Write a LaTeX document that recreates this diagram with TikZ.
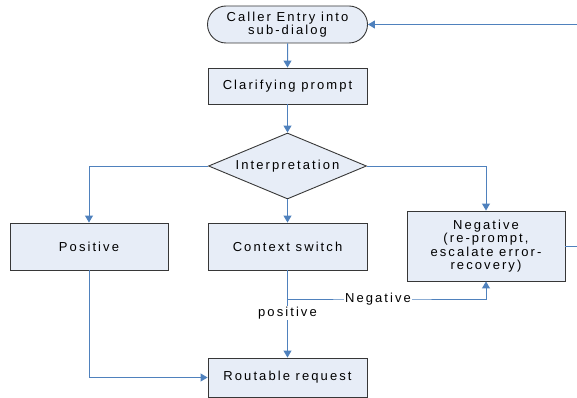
\documentclass[tikz,border=0pt]{standalone}
\usepackage{fontspec}
\setmainfont{Liberation Sans}[LetterSpace=16]
\usetikzlibrary{shapes.geometric,shapes.misc,arrows.meta}
\definecolor{boxfill}{RGB}{231,237,247}
\definecolor{linkblue}{RGB}{79,129,189}
\definecolor{boxline}{RGB}{55,55,55}
\tikzset{
  box/.style={draw=boxline, fill=boxfill, line width=0.9pt, inner sep=0pt, align=center,
    font=\fontsize{13}{13.5}\selectfont},
  link/.style={draw=linkblue, line width=1pt, -{Triangle[length=7pt,width=8pt]}},
  lbl/.style={fill=white, inner sep=1pt, font=\fontsize{13}{13.5}\selectfont}
}
\begin{document}
\begin{tikzpicture}[x=1pt,y=-1pt]
\useasboundingbox (0,0) rectangle (577,398);
\clip (0,0) rectangle (577,398);
\node[box, rounded rectangle, minimum width=160pt, minimum height=37pt] (caller) at (287.5,24.5) {Caller Entry into\\sub-dialog};
\node[box, rectangle, minimum width=159pt, minimum height=36pt] (clar) at (287.5,86) {Clarifying prompt};
\node[box, diamond, aspect=2.39, minimum width=158pt, minimum height=66pt] (interp) at (287.5,166) {Interpretation};
\node[box, rectangle, minimum width=158pt, minimum height=47pt] (pos) at (89,246.5) {Positive};
\node[box, rectangle, minimum width=159pt, minimum height=47pt] (ctx) at (287.5,246.5) {Context switch};
\node[box, rectangle, minimum width=158pt, minimum height=70pt] (neg) at (486,246) {Negative\\(re-prompt,\\escalate error-\\recovery)};
\node[box, rectangle, minimum width=159pt, minimum height=39pt] (rout) at (287.5,377.5) {Routable request};
\coordinate (nj) at (378,299);
\coordinate (fb) at (595,24.5);

\draw[link] (caller) -- (clar);
\draw[link] (clar) -- (interp);
\draw[link] (interp.west) -| (pos.north);
\draw[link] (interp) -- (ctx);
\draw[link] (interp.east) -| (neg.north);
\draw[link] (ctx) -- node[lbl, pos=0.49] (poslbl) {positive} (rout);
\draw[link] (ctx.south) |- (nj) -| (neg.south);
\node[lbl] (neglbl) at (nj) {Negative};
\draw[link] (pos.south) |- (rout.west);
\draw[link] (neg.east) -| (fb) -- (caller.east);
\end{tikzpicture}
\end{document}
